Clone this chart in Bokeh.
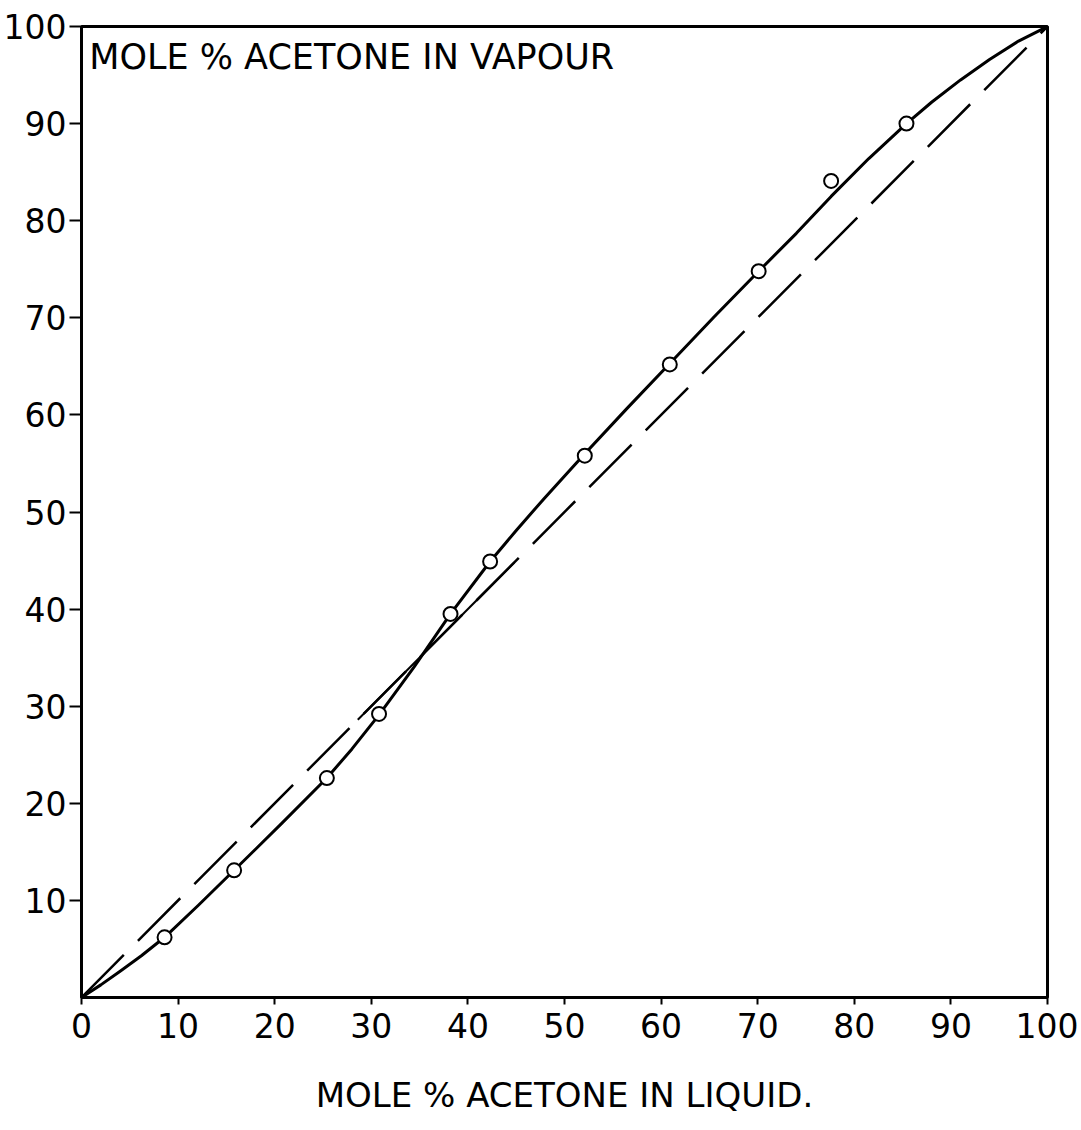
from bokeh.plotting import figure
from bokeh.models import FixedTicker, Label, Range1d
from bokeh.embed import file_html
from bokeh.resources import INLINE

# measured data points (mole % acetone in liquid, in vapour)
liq_pts = [8.6, 15.8, 25.4, 30.8, 38.2, 42.3, 52.1, 60.9, 70.1, 77.6, 85.4]
vap_pts = [6.2, 13.1, 22.6, 29.2, 39.5, 44.9, 55.8, 65.2, 74.8, 84.1, 90.0]

# hand-drawn equilibrium curve
curve_x = [0, 2.0, 4.0, 6.2, 8.6, 12.1, 15.8, 20.7, 25.4, 28.0, 30.8, 34.4,
           38.2, 42.3, 45.0, 47.9, 52.1, 56.5, 60.9, 65.5, 70.1, 74.0, 77.6,
           81.5, 85.4, 88.0, 91.0, 94.0, 97.0, 100]
curve_y = [0, 1.3, 2.7, 4.3, 6.2, 9.5, 13.1, 17.9, 22.6, 25.6, 29.1, 34.0,
           39.5, 44.9, 48.1, 51.4, 56.0, 60.7, 65.3, 70.1, 74.8, 78.7, 82.5,
           86.4, 90.0, 92.2, 94.5, 96.6, 98.5, 100]

# 45-degree reference line (dashed), with the solid stretch near the crossing
diag_x = [0, 100]
diag_y = [0, 100]
diag_solid_x = [28.6, 44.8]
diag_solid_y = [28.6, 44.8]

x_ticks = [0, 10, 20, 30, 40, 50, 60, 70, 80, 90, 100]
y_ticks = [10, 20, 30, 40, 50, 60, 70, 80, 90, 100]

FONT = "DejaVu Sans"

p = figure(width=1078, height=1122, output_backend="svg", toolbar_location=None,
           x_range=Range1d(0, 100), y_range=Range1d(0, 100),
           min_border_left=80, min_border_right=31, min_border_top=26,
           min_border_bottom=125)
p.grid.visible = False
p.outline_line_color = "black"
p.outline_line_width = 3
p.background_fill_color = "white"
p.border_fill_color = "white"

p.line(diag_x, diag_y, line_color="black", line_width=2.5, line_dash="60 20")
p.line(diag_solid_x, diag_solid_y, line_color="black", line_width=2)
p.line(curve_x, curve_y, line_color="black", line_width=3, line_join="round")
p.scatter(liq_pts, vap_pts, marker="circle", size=14, line_color="black",
          line_width=2, fill_color="white")

for ax in (p.xaxis[0], p.yaxis[0]):
    ax.axis_line_width = 3
    ax.axis_line_color = "black"
    ax.major_tick_line_width = 2
    ax.major_tick_line_color = "black"
    ax.minor_tick_line_color = None
    ax.major_tick_in = 0
    ax.major_label_text_font = FONT
    ax.major_label_text_font_size = "33px"
    ax.major_label_text_color = "black"

p.xaxis.ticker = FixedTicker(ticks=x_ticks)
p.yaxis.ticker = FixedTicker(ticks=y_ticks)
p.xaxis.major_tick_out = 7
p.yaxis.major_tick_out = 12
p.xaxis.major_label_standoff = 8
p.yaxis.major_label_standoff = 3

p.xaxis.axis_label = "MOLE % ACETONE IN LIQUID."
p.xaxis.axis_label_text_font = FONT
p.xaxis.axis_label_text_font_size = "34px"
p.xaxis.axis_label_text_font_style = "normal"
p.xaxis.axis_label_text_color = "black"
p.xaxis.axis_label_standoff = 34

p.add_layout(Label(x=0.8, y=96.9, text="MOLE % ACETONE IN VAPOUR",
                   text_font=FONT, text_font_size="35px",
                   text_color="black", text_baseline="alphabetic"))

open("out.html", "w").write(file_html(p, INLINE))
